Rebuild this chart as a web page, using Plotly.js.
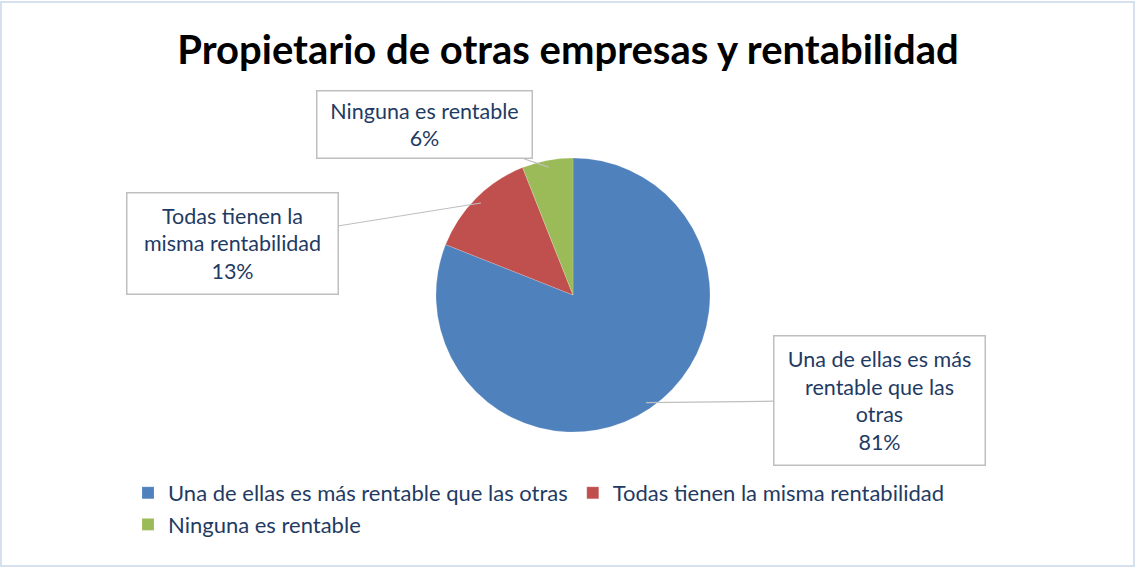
<!DOCTYPE html>
<html>
<head>
<meta charset="utf-8">
<script src="https://cdn.plot.ly/plotly-3.0.1.min.js"></script>
<style>
  html, body { margin: 0; padding: 0; background: #ffffff; }
  #chart { width: 1136px; height: 567px; }
</style>
</head>
<body>
<div id="chart"></div>
<script>
// ---- data ----
const categories = [
  "Una de ellas es más rentable que las otras",
  "Todas tienen la misma rentabilidad",
  "Ninguna es rentable"
];
const values = [81, 13, 6];
const boxLabels = [
  "Una de ellas es más<br>rentable que las<br>otras",
  "Todas tienen la<br>misma rentabilidad",
  "Ninguna es rentable"
];
const colors = ["#4F81BD", "#C0504D", "#9BBB59"];
const titleText = "Propietario de otras empresas y rentabilidad";

// ---- layout geometry ----
const W = 1136, H = 567;
const M = { l: 120, r: 90, t: 0, b: 0 };
const PW = W - M.l - M.r, PH = H - M.t - M.b;
const cx = 573, cy = 295, R = 137;           // pie centre/radius in pixels
const dom = {
  x: [(cx - R - 30 - M.l) / PW, (cx + R + 30 - M.l) / PW],
  y: [1 - (cy + R) / PH, 1 - (cy - R) / PH]
};
const boxCentres = [[879, 400], [232, 243], [424, 125]];
const boxSizes = [[200, 118], [200, 90], [204, 56]];

const total = values.reduce((a, b) => a + b, 0);
const textColor = "#1F3B63";
const font = "Lato, 'Open Sans', sans-serif";

// arrow tips at each slice's mid-angle near the rim (clockwise from 12 o'clock)
let acc = 0;
const annotations = values.map((v, i) => {
  const mid = (acc + v / 2) / total; acc += v;
  const ang = mid * 2 * Math.PI;
  const tx = cx + R * Math.sin(ang) * 0.95, ty = cy - R * Math.cos(ang) * 0.95;
  const pct = Math.round(v / total * 100) + "%";
  return {
    xref: "paper", yref: "paper",
    x: (tx - M.l) / PW, y: 1 - (ty - M.t) / PH,
    ax: boxCentres[i][0] - tx, ay: boxCentres[i][1] - ty,
    text: boxLabels[i] + "<br>" + pct,
    showarrow: true, arrowhead: 0, arrowwidth: 1.2, arrowcolor: "#BFBFBF",
    standoff: 0, startstandoff: 0,
    bgcolor: "#FFFFFF", bordercolor: "#BFBFBF", borderwidth: 1.5, borderpad: 5,
    width: boxSizes[i][0], height: boxSizes[i][1],
    font: { family: font, size: 21.5, color: textColor }, align: "center"
  };
});

const data = [{
  type: "pie",
  labels: categories,
  values: values,
  sort: false,
  direction: "clockwise",
  rotation: 0,
  marker: { colors: colors, line: { color: "rgba(255,255,255,0.35)", width: 0.5 } },
  textinfo: "none",
  hoverinfo: "label+percent",
  domain: dom
}];

const layout = {
  width: W, height: H,
  margin: M,
  paper_bgcolor: "#FFFFFF",
  plot_bgcolor: "#FFFFFF",
  title: {
    text: "<b>" + titleText + "</b>",
    font: { family: font, size: 40, color: "#000000" },
    x: 0.5, xref: "container", xanchor: "center",
    y: 1 - 50 / H, yanchor: "middle"
  },
  showlegend: true,
  legend: {
    orientation: "h",
    x: (128 - M.l) / PW, xanchor: "left",
    y: 1 - 472 / H, yanchor: "top",
    bgcolor: "rgba(0,0,0,0)",
    font: { family: font, size: 22, color: textColor },
    itemclick: false
  },
  annotations: annotations,
  shapes: [{
    type: "rect", xref: "paper", yref: "paper",
    x0: (1 - M.l) / PW, x1: (W - 2 - M.l) / PW,
    y0: 1 / H, y1: 1 - 2 / H,
    line: { color: "#D6E0EE", width: 2 }, layer: "below"
  }]
};

Plotly.newPlot("chart", data, layout, { staticPlot: true, displayModeBar: false });
</script>
</body>
</html>
